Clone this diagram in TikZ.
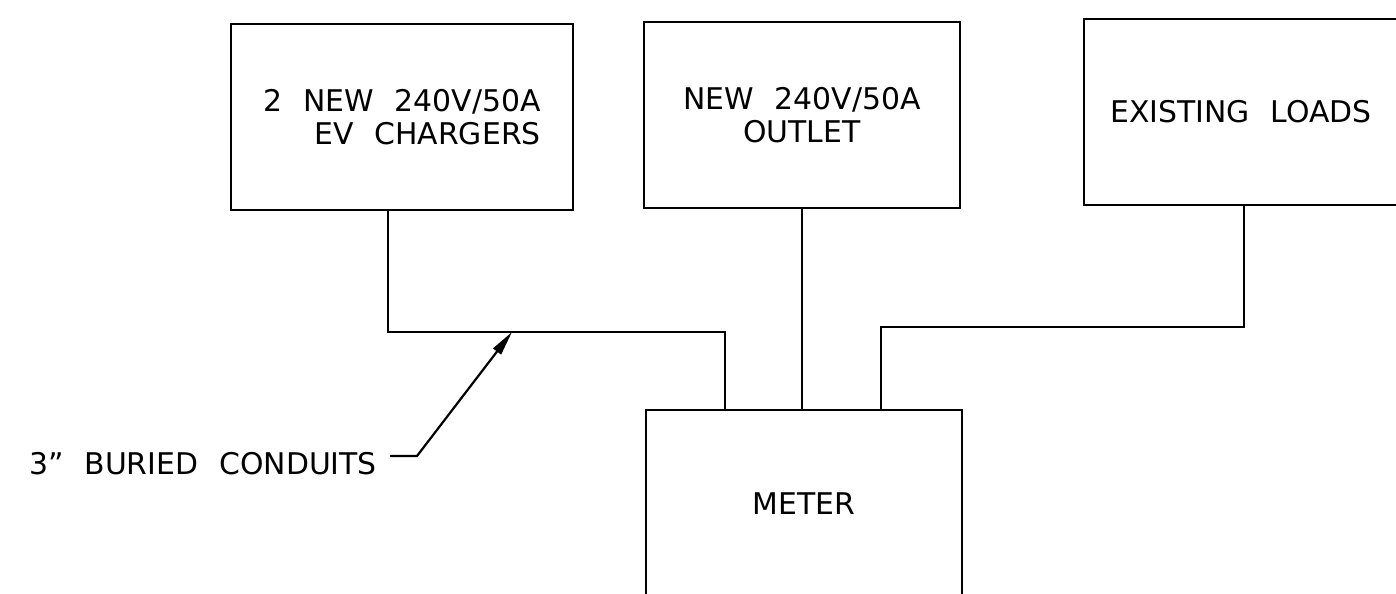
\documentclass[tikz,border=0pt]{standalone}
\usepackage{fontspec}
\setmainfont{DejaVu Sans}[WordSpace=2.2]
\usetikzlibrary{arrows.meta}

\begin{document}
\begin{tikzpicture}[x=0.02cm,y=-0.02cm,line width=1.25pt,
  box/.style={draw,rectangle,inner sep=0pt,minimum height=3.72cm,font=\fontsize{17}{19}\selectfont},
  lbl/.style={inner sep=0pt,font=\fontsize{17}{19}\selectfont}]
\useasboundingbox (0,0) rectangle (1396,594);
\clip (0,0) rectangle (1396,594);
\node[box,minimum width=6.84cm,align=right] (ev) at (402,117) {2 NEW 240V/50A\\EV CHARGERS};
\node[box,minimum width=6.32cm,align=center] (out) at (802,115) {NEW 240V/50A\\OUTLET};
\node[box,minimum width=6.28cm] (load) at (1241,112) {EXISTING LOADS};
\node[box,minimum width=6.32cm,minimum height=3.76cm] (meter) at (804,504) {METER};
% conduits
\draw ([shift={(-14,0)}]ev.south) -- ++(0,121) -| ([shift={(-79,0)}]meter.north);
\draw (out.south) -- (out.south |- meter.north);
\draw ([shift={(3,0)}]load.south) -- ++(0,121) -| ([shift={(77,0)}]meter.north);
\node[lbl,anchor=east] (cond) at (378,464) {3” BURIED CONDUITS};
\coordinate (tip) at (512,332);
\draw[-{Triangle[length=14pt,width=5.5pt]}] ([shift={(12,-8)}]cond.east) -- ++(27,0) -- (tip);
\end{tikzpicture}
\end{document}
